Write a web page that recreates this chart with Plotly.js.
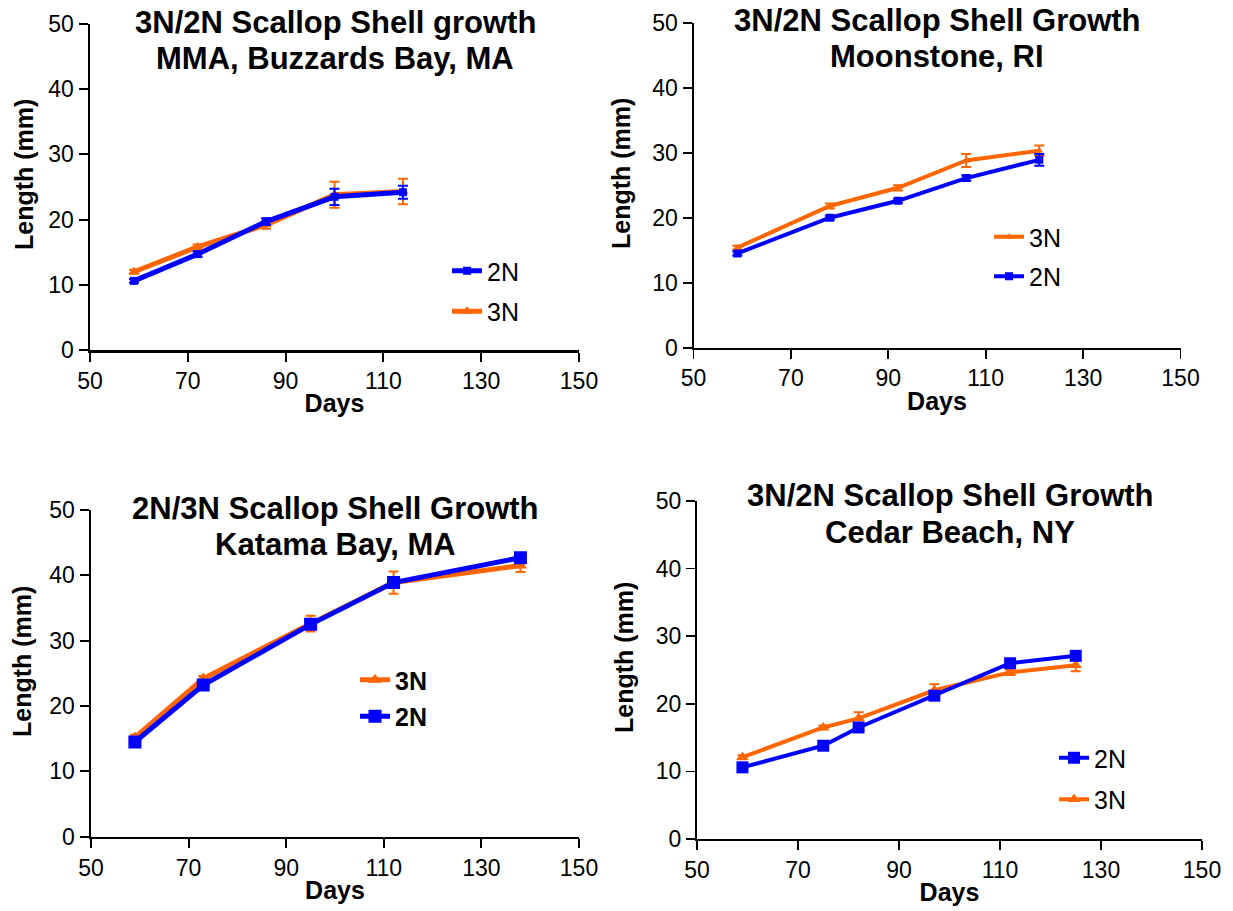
<!DOCTYPE html>
<html>
<head>
<meta charset="utf-8">
<script src="https://cdn.plot.ly/plotly-3.0.1.min.js"></script>
<style>html,body{margin:0;padding:0;background:#fff;}#chart{width:1233px;height:911px;}</style>
</head>
<body>
<div id="chart"></div>
<script>
// ---- Data ----
// Panel 1: MMA, Buzzards Bay, MA
const days1 = [59, 72, 86, 100, 114];
const len1_2N = [10.6, 14.7, 19.7, 23.5, 24.2];
const err1_2N = [0.3, 0.4, 0.5, 1.25, 1.0];
const len1_3N = [12.0, 15.8, 19.2, 23.8, 24.3];
const err1_3N = [0.3, 0.4, 0.6, 2.0, 1.95];

// Panel 2: Moonstone, RI
const days2 = [59, 78, 92, 106, 121];
const len2_2N = [14.5, 20.0, 22.6, 26.1, 28.9];
const err2_2N = [0.3, 0.3, 0.3, 0.4, 0.9];
const len2_3N = [15.4, 21.8, 24.6, 28.8, 30.3];
const err2_3N = [0.3, 0.4, 0.4, 1.0, 0.8];

// Panel 3: Katama Bay, MA
const days3 = [59, 73, 95, 112, 138];
const len3_2N = [14.5, 23.2, 32.5, 38.9, 42.7];
const err3_2N = [0.4, 0.5, 0.6, 0.6, 0.4];
const len3_3N = [15.2, 24.2, 32.6, 38.9, 41.5];
const err3_3N = [0.4, 0.4, 1.2, 1.7, 1.0];

// Panel 4: Cedar Beach, NY
const days4 = [59, 75, 82, 97, 112, 125];
const len4_2N = [10.6, 13.8, 16.5, 21.2, 26.0, 27.1];
const err4_2N = [0.3, 0.3, 0.3, 0.3, 0.3, 0.3];
const len4_3N = [12.1, 16.5, 17.85, 22.0, 24.65, 25.7];
const err4_3N = [0.3, 0.3, 0.9, 0.9, 0.4, 0.9];

const titles = [
  ["3N/2N Scallop Shell growth", "MMA, Buzzards Bay, MA"],
  ["3N/2N Scallop Shell Growth", "Moonstone, RI"],
  ["2N/3N Scallop Shell Growth", "Katama Bay, MA"],
  ["3N/2N Scallop Shell Growth", "Cedar Beach, NY"]
];
const seriesNames = ["2N", "3N"];
const xTitle = "Days";
const yTitle = "Length (mm)";

// ---- Styling / layout ----
const W = 1233, H = 911;
const BLUE = "#0000FF", ORANGE = "#FF6600";
const FONT = "Liberation Sans, Arial, sans-serif";

// pixel boxes of each plot area: [left, right, top(y=50), bottom(y=0)]
const boxes = [
  [90, 579, 24, 350],
  [693.5, 1180.5, 22.7, 347.7],
  [91, 579, 510, 836.7],
  [697, 1202, 501, 839]
];
const lw = [5, 4, 5, 4];
const axw = [2.5, 2, 2.5, 2];
const sqSize = [8, 8, 13, 12];
const triSize = [10, 7, 12, 11];

const panels = [
  {x: days1, a: len1_2N, ea: err1_2N, b: len1_3N, eb: err1_3N},
  {x: days2, a: len2_2N, ea: err2_2N, b: len2_3N, eb: err2_3N},
  {x: days3, a: len3_2N, ea: err3_2N, b: len3_3N, eb: err3_3N},
  {x: days4, a: len4_2N, ea: err4_2N, b: len4_3N, eb: err4_3N}
];
// legend order per panel: which series first
const legendFirst = ["2N", "3N", "3N", "2N"];
const legendBold = [false, false, true, false];
// legend [text-left x, first item center y, tracegroupgap]
const legendPos = [
  [491, 270, 5],
  [1033, 236, 4],
  [399, 679, 1],
  [1098, 757, 6]
];

const data = [];
const layout = {
  width: W, height: H, autosize: false,
  margin: {l: 0, r: 0, t: 0, b: 0, pad: 0},
  paper_bgcolor: "#fff", plot_bgcolor: "#fff",
  font: {family: FONT, color: "#000"},
  showlegend: true,
  annotations: []
};

panels.forEach((p, i) => {
  const n = i + 1;
  const xa = n === 1 ? "x" : "x" + n;
  const ya = n === 1 ? "y" : "y" + n;
  const lg = n === 1 ? "legend" : "legend" + n;
  const [L, R, T, B] = boxes[i];
  const xaxisKey = n === 1 ? "xaxis" : "xaxis" + n;
  const yaxisKey = n === 1 ? "yaxis" : "yaxis" + n;
  const common = {
    showgrid: false, zeroline: false, showline: true, linecolor: "#000",
    linewidth: axw[i], ticks: "outside", ticklen: 9, tickwidth: axw[i] * 0.8,
    tickcolor: "#000", tickfont: {family: FONT, size: 23, color: "#000"},
    fixedrange: true
  };
  layout[xaxisKey] = Object.assign({}, common, {
    domain: [L / W, R / W], anchor: ya, range: [50, 150],
    tickmode: "linear", tick0: 50, dtick: 20,
    title: {text: xTitle, font: {family: FONT, size: 25, color: "#000", weight: "bold"}, standoff: 2}
  });
  layout[yaxisKey] = Object.assign({}, common, {
    domain: [1 - B / H, 1 - T / H], anchor: xa, range: [0, 50],
    tickmode: "linear", tick0: 0, dtick: 10
  });

  const order = legendFirst[i] === "2N" ? [0, 1] : [1, 0];
  const tr3 = {
    type: "scatter", mode: "lines+markers", name: seriesNames[1],
    x: p.x, y: p.b, xaxis: xa, yaxis: ya, legend: lg,
    legendgroup: "g3_" + n, legendrank: order[0] === 1 ? 1 : 2,
    line: {color: ORANGE, width: lw[i]},
    marker: {symbol: "triangle-up", size: triSize[i], color: ORANGE},
    error_y: {type: "data", array: p.eb, visible: true, color: ORANGE, thickness: 2, width: 5}
  };
  const tr2 = {
    type: "scatter", mode: "lines+markers", name: seriesNames[0],
    x: p.x, y: p.a, xaxis: xa, yaxis: ya, legend: lg,
    legendgroup: "g2_" + n, legendrank: order[0] === 0 ? 1 : 2,
    line: {color: BLUE, width: lw[i]},
    marker: {symbol: "square", size: sqSize[i], color: BLUE},
    error_y: {type: "data", array: p.ea, visible: true, color: BLUE, thickness: 2, width: 5}
  };
  data.push(tr3, tr2);

  const [tx, ty, gap] = legendPos[i];
  layout[lg] = {
    x: (tx - 44) / W, xanchor: "left",
    y: 1 - (ty - 22) / H, yanchor: "top",
    bgcolor: "rgba(0,0,0,0)", borderwidth: 0,
    font: {family: FONT, size: 25, color: "#000", weight: legendBold[i] ? "bold" : "normal"},
    traceorder: "grouped", tracegroupgap: gap,
    itemclick: false, itemdoubleclick: false
  };

  // titles
  const titleY = i === 3 ? [T - 5, T + 31] : [T - 2, T + 34];
  titles[i].forEach((line, k) => {
    layout.annotations.push({
      text: "<b>" + line + "</b>", xref: "paper", yref: "paper",
      x: (i % 2 === 0 ? 335 : (i === 1 ? 937 : 950)) / W,
      y: 1 - titleY[k] / H, xanchor: "center", yanchor: "middle",
      showarrow: false, font: {family: FONT, size: 31, color: "#000"}
    });
  });
  // y-axis title
  const yCenters = [175, 174, 662, 658];
  const yX = [24, 621, 22, 624];
  layout.annotations.push({
    text: "<b>" + yTitle + "</b>", xref: "paper", yref: "paper",
    x: yX[i] / W, y: 1 - yCenters[i] / H, xanchor: "center", yanchor: "middle",
    textangle: -90, showarrow: false, font: {family: FONT, size: 25, color: "#000"}
  });
});

Plotly.newPlot("chart", data, layout, {displayModeBar: false, staticPlot: true});
</script>
</body>
</html>
